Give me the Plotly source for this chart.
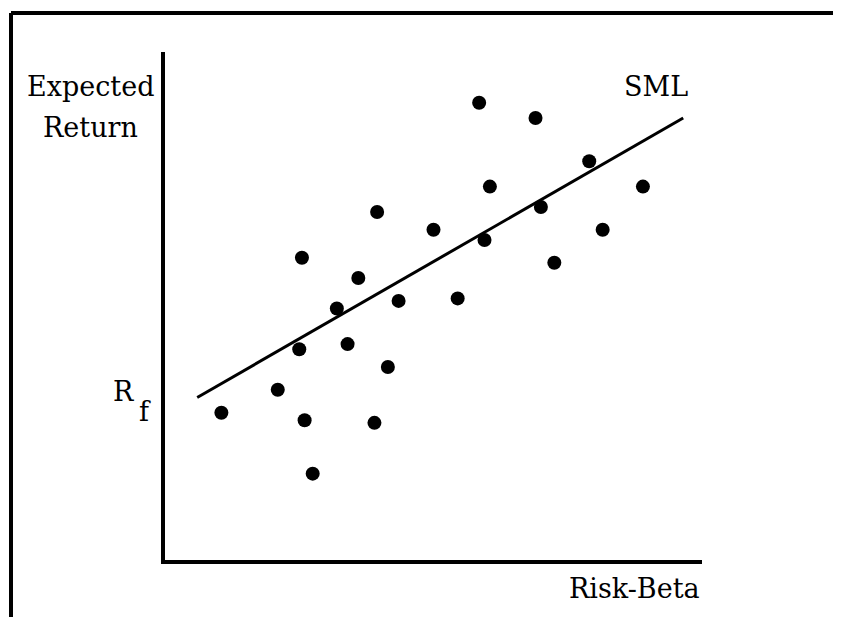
import plotly.graph_objects as go

# Security Market Line sketch: scattered securities around the SML
beta = [1.17, 1.38, 1.58, 1.21, 1.78, 0.79, 1.40, 1.00, 1.63, 1.19, 0.51, 1.45,
        0.72, 0.64, 0.87, 1.09, 0.50, 0.68, 0.83, 0.42, 0.21, 0.52, 0.78, 0.55]
expected_return = [18.0, 17.4, 15.7, 14.7, 14.7, 13.7, 13.9, 13.0, 13.0, 12.6, 11.9, 11.7,
                   11.1, 9.9, 10.2, 10.3, 8.3, 8.5, 7.6, 6.7, 5.8, 5.5, 5.4, 3.4]
sml_beta = [0.12, 1.93]
sml_return = [6.4, 17.4]

# page body adds an 8px margin, so the figure is drawn 8px smaller and offset
OFF = 8
W, H = 841 - OFF, 617 - OFF
L, R, T, B = 165 - OFF, 139, 52 - OFF, 57
FONT = "DejaVu Serif"


def px(x):
    return (x - OFF - L) / (W - L - R)


def py(y):
    return (H - B - (y - OFF)) / (H - T - B)


fig = go.Figure()
fig.add_trace(go.Scatter(x=sml_beta, y=sml_return, mode="lines",
                         line=dict(color="black", width=3), hoverinfo="skip"))
fig.add_trace(go.Scatter(x=beta, y=expected_return, mode="markers",
                         marker=dict(color="black", size=14)))

ann = dict(xref="paper", yref="paper", showarrow=False, font=dict(family=FONT, size=27, color="black"))
fig.add_annotation(text="Expected", x=px(90), y=py(86), xanchor="center", yanchor="middle", **ann)
fig.add_annotation(text="Return", x=px(90), y=py(128), xanchor="center", yanchor="middle", **ann)
fig.add_annotation(text="SML", x=px(656), y=py(86), xanchor="center", yanchor="middle", **ann)
fig.add_annotation(text="Risk-Beta", x=px(634), y=py(588), xanchor="center", yanchor="middle", **ann)
fig.add_annotation(text="R", x=px(123), y=py(392), xanchor="center", yanchor="middle", **ann)
fig.add_annotation(text="f", x=px(145), y=py(411), xanchor="center", yanchor="middle", **ann)

# outer frame (top and left edges only)
fig.add_shape(type="line", xref="paper", yref="paper", x0=px(11), x1=px(845), y0=py(13), y1=py(13),
              line=dict(color="black", width=4))
fig.add_shape(type="line", xref="paper", yref="paper", x0=px(11), x1=px(11), y0=py(13), y1=py(625),
              line=dict(color="black", width=4))

fig.update_xaxes(range=[0, 2], showline=True, linecolor="black", linewidth=4, showgrid=False,
                 zeroline=False, showticklabels=False, ticks="")
fig.update_yaxes(range=[0, 20], showline=True, linecolor="black", linewidth=4, showgrid=False,
                 zeroline=False, showticklabels=False, ticks="")
fig.update_layout(width=W, height=H, margin=dict(l=L, r=R, t=T, b=B), showlegend=False,
                  plot_bgcolor="white", paper_bgcolor="white")

fig.write_html("out.html")
